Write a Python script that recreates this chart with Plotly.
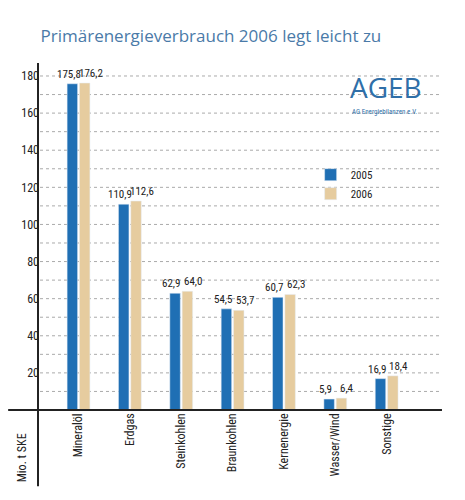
import plotly.graph_objects as go

categories = ["Mineralöl", "Erdgas", "Steinkohlen", "Braunkohlen", "Kernenergie", "Wasser/Wind", "Sonstige"]
v2005 = [175.8, 110.9, 62.9, 54.5, 60.7, 5.9, 16.9]
v2006 = [176.2, 112.6, 64.0, 53.7, 62.3, 6.4, 18.4]
lab2005 = ["175,8", "110,9", "62,9", "54,5", "60,7", "5,9", "16,9"]
lab2006 = ["176,2", "112,6", "64,0", "53,7", "62,3", "6,4", "18,4"]
yticks = [20, 40, 60, 80, 100, 120, 140, 160, 180]

blue = "#1f6fb4"
beige = "#e6cc9f"
font = "Roboto Condensed, Liberation Sans Narrow, Roboto, sans-serif"

fig = go.Figure()
fig.add_bar(x=categories, y=v2005, name="2005", marker_color=blue)
fig.add_bar(x=categories, y=v2006, name="2006", marker_color=beige)

for c, a, b, la, lb in zip(categories, v2005, v2006, lab2005, lab2006):
    fig.add_annotation(x=c, y=a, text=la, showarrow=False, yanchor="bottom", xanchor="center",
                       xshift=-10, yshift=1, font=dict(size=11, color="#222"))
    fig.add_annotation(x=c, y=b, text=lb, showarrow=False, yanchor="bottom", xanchor="center",
                       xshift=12, yshift=1, font=dict(size=11, color="#222"))

fig.update_layout(
    width=465, height=500, barmode="group", bargap=0.52, bargroupgap=0.15,
    margin=dict(l=32, r=35, t=55, b=98),
    paper_bgcolor="white", plot_bgcolor="white",
    font=dict(family=font, color="#222"),
    title=dict(text="Primärenergieverbrauch 2006 legt leicht zu", x=0.07, xanchor="left",
               y=0.955, font=dict(size=17, color="#4a7aa8", family="Open Sans, sans-serif")),
    xaxis=dict(type="category", range=[-0.75, 7.0], tickangle=-90, ticks="",
               tickfont=dict(size=12), showgrid=False, showline=False),
    yaxis=dict(range=[0, 187], tickvals=yticks, ticks="", tickfont=dict(size=12),
               showgrid=False, showline=False, zeroline=False),
    legend=dict(x=0.68, y=0.72, xanchor="left", yanchor="top", font=dict(size=11),
                bgcolor="rgba(0,0,0,0)"),
    showlegend=True,
)
for g in range(10, 190, 10):
    fig.add_shape(type="line", xref="paper", yref="y", x0=0, x1=1.01, y0=g, y1=g,
                  line=dict(color="#aaa", width=1, dash="dot"), layer="below")
fig.add_shape(type="line", xref="paper", yref="paper", x0=-0.005, x1=-0.005, y0=-0.22, y1=1,
              line=dict(color="#222", width=2))
fig.add_shape(type="line", xref="paper", yref="paper", x0=-0.08, x1=1.01, y0=0, y1=0,
              line=dict(color="#222", width=2))
fig.add_annotation(text="Mio. t SKE", xref="paper", yref="paper", x=-0.045, y=-0.215,
                   textangle=-90, showarrow=False, xanchor="center", yanchor="bottom",
                   font=dict(size=12))
fig.add_annotation(text="AGEB", xref="paper", yref="paper", x=0.775, y=0.99, showarrow=False,
                   xanchor="left", yanchor="top", font=dict(size=28, color="#2f6fa8", family="Open Sans, sans-serif"))
fig.add_annotation(text="AG Energiebilanzen e.V.", xref="paper", yref="paper", x=0.78, y=0.875,
                   showarrow=False, xanchor="left", yanchor="top", font=dict(size=7, color="#2f6fa8"))
fig.write_html("out.html")
